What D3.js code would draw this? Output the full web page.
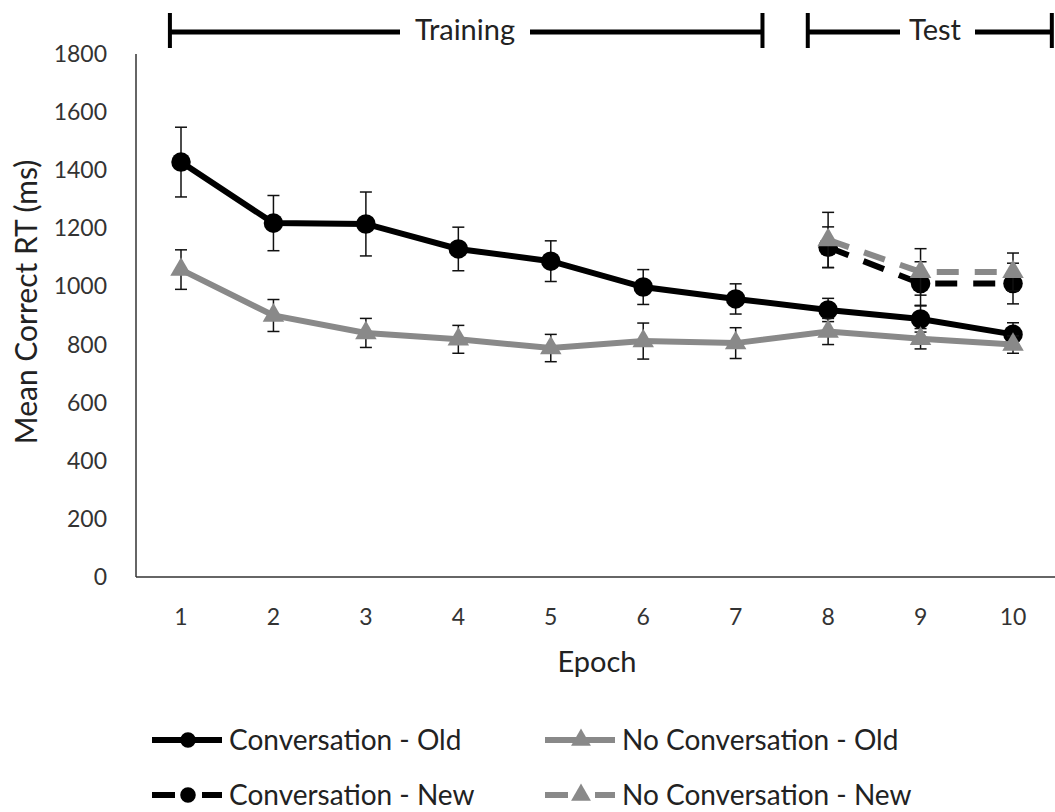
<!DOCTYPE html>
<html>
<head>
<meta charset="utf-8">
<script src="https://cdn.jsdelivr.net/npm/d3@7"></script>
<style>
  body { margin: 0; background: #fff; }
  text { font-family: Lato, "Open Sans", sans-serif; fill: #222; }
</style>
</head>
<body>
<div id="chart"></div>
<script>
var epochs = [1, 2, 3, 4, 5, 6, 7, 8, 9, 10];
var testEpochs = [8, 9, 10];
var yTicks = [0, 200, 400, 600, 800, 1000, 1200, 1400, 1600, 1800];

var convOld = [1428, 1218, 1215, 1129, 1087, 998, 957, 919, 888, 835];
var convOldErr = [120, 95, 110, 75, 70, 60, 52, 40, 45, 40];
var noConvOld = [1058, 900, 840, 818, 788, 812, 805, 845, 820, 800];
var noConvOldErr = [68, 55, 50, 48, 47, 62, 53, 45, 35, 30];
var convNew = [1135, 1010, 1010];
var convNewErr = [70, 75, 70];
var noConvNew = [1160, 1050, 1050];
var noConvNewErr = [95, 80, 65];

var W = 1055, H = 812;
var m = { left: 136, top: 54, bottom: 235 };
var black = '#000', grey = '#898989';

var svg = d3.select('#chart').append('svg')
  .attr('width', W).attr('height', H);

var x = d3.scalePoint().domain(epochs).range([181, 1013]);
var y = d3.scaleLinear().domain([0, 1800]).range([H - m.bottom, m.top]);

// axis lines, no tick marks
svg.append('line').attr('x1', m.left).attr('x2', m.left)
  .attr('y1', y(1800)).attr('y2', y(0)).attr('stroke', '#333').attr('stroke-width', 1.5);
svg.append('line').attr('x1', m.left).attr('x2', W)
  .attr('y1', y(0)).attr('y2', y(0)).attr('stroke', '#333').attr('stroke-width', 1.5);

svg.selectAll('.ytick').data(yTicks).enter().append('text')
  .attr('x', 107).attr('y', function(d) { return y(d); })
  .attr('dy', '.35em').attr('text-anchor', 'end')
  .style('font-size', '23px').style('fill', '#333').text(function(d) { return d; });

svg.selectAll('.xtick').data(epochs).enter().append('text')
  .attr('x', function(d) { return x(d); }).attr('y', 617)
  .attr('dy', '.35em').attr('text-anchor', 'middle')
  .style('font-size', '23px').style('fill', '#333').text(function(d) { return d; });

svg.append('text').attr('x', 597).attr('y', 662)
  .attr('dy', '.35em').attr('text-anchor', 'middle')
  .style('font-size', '29px').text('Epoch');

svg.append('text')
  .attr('transform', 'translate(26,302) rotate(-90)')
  .attr('dy', '.35em').attr('text-anchor', 'middle')
  .style('font-size', '30px').text('Mean Correct RT (ms)');

// period brackets
var step = x.step();
function bracket(from, to, label, labelX, gapL, gapR) {
  var g = svg.append('g');
  var x1 = x(from[0]) + from[1] * step, x2 = x(to[0]) + to[1] * step;
  g.append('line').attr('x1', x1).attr('x2', gapL)
    .attr('y1', 32).attr('y2', 32).attr('stroke', black).attr('stroke-width', 5);
  g.append('line').attr('x1', gapR).attr('x2', x2)
    .attr('y1', 32).attr('y2', 32).attr('stroke', black).attr('stroke-width', 5);
  [x1, x2].forEach(function(px) {
    g.append('line').attr('x1', px).attr('x2', px).attr('y1', 13).attr('y2', 48)
      .attr('stroke', black).attr('stroke-width', 4);
  });
  g.append('text').attr('x', labelX).attr('y', 30).attr('dy', '.35em')
    .attr('text-anchor', 'middle').style('font-size', '29px').text(label);
}
bracket([1, -0.12], [7, 0.29], 'Training', 465, 400, 530);
bracket([8, -0.22], [10, 0.42], 'Test', 935, 900, 975);

// series
function drawSeries(xs, vals, errs, color, dashed, marker) {
  var pts = xs.map(function(e, i) { return { e: e, v: vals[i], err: errs[i] }; });
  var g = svg.append('g');
  g.append('path').datum(pts)
    .attr('d', d3.line().x(function(d) { return x(d.e); }).y(function(d) { return y(d.v); }))
    .attr('fill', 'none').attr('stroke', color).attr('stroke-width', 6)
    .attr('stroke-dasharray', dashed ? '22,16' : null);
  var eb = g.selectAll('.eb').data(pts).enter().append('g');
  eb.append('line').attr('x1', function(d) { return x(d.e); }).attr('x2', function(d) { return x(d.e); })
    .attr('y1', function(d) { return y(d.v + d.err); }).attr('y2', function(d) { return y(d.v - d.err); })
    .attr('stroke', '#111').attr('stroke-width', 1.5);
  [1, -1].forEach(function(s) {
    eb.append('line').attr('x1', function(d) { return x(d.e) - 6; }).attr('x2', function(d) { return x(d.e) + 6; })
      .attr('y1', function(d) { return y(d.v + s * d.err); }).attr('y2', function(d) { return y(d.v + s * d.err); })
      .attr('stroke', '#111').attr('stroke-width', 1.5);
  });
  var sym = d3.symbol().type(marker).size(marker === d3.symbolCircle ? 300 : 200);
  g.selectAll('.mk').data(pts).enter().append('path')
    .attr('transform', function(d) { return 'translate(' + x(d.e) + ',' + y(d.v) + ')'; })
    .attr('d', sym).attr('fill', color);
}
drawSeries(epochs, convOld, convOldErr, black, false, d3.symbolCircle);
drawSeries(epochs, noConvOld, noConvOldErr, grey, false, d3.symbolTriangle);
drawSeries(testEpochs, convNew, convNewErr, black, true, d3.symbolCircle);
drawSeries(testEpochs, noConvNew, noConvNewErr, grey, true, d3.symbolTriangle);

// legend
var legend = [
  { name: 'Conversation - Old', color: black, dashed: false, marker: d3.symbolCircle, x: 152, y: 740 },
  { name: 'No Conversation - Old', color: grey, dashed: false, marker: d3.symbolTriangle, x: 545, y: 740 },
  { name: 'Conversation - New', color: black, dashed: true, marker: d3.symbolCircle, x: 152, y: 795 },
  { name: 'No Conversation - New', color: grey, dashed: true, marker: d3.symbolTriangle, x: 545, y: 795 }
];
var lg = svg.selectAll('.lg').data(legend).enter().append('g')
  .attr('transform', function(d) { return 'translate(' + d.x + ',' + d.y + ')'; });
lg.append('line').attr('x1', 0).attr('x2', 70).attr('y1', 0).attr('y2', 0)
  .attr('stroke', function(d) { return d.color; }).attr('stroke-width', 6)
  .attr('stroke-dasharray', function(d) { return d.dashed ? '23,27,20' : null; });
lg.append('path').attr('transform', 'translate(36,0)')
  .attr('d', function(d) { return d3.symbol().type(d.marker).size(d.marker === d3.symbolCircle ? 190 : 170)(); })
  .attr('fill', function(d) { return d.color; });
lg.append('text').attr('x', 77).attr('dy', '.35em')
  .style('font-size', '28px').text(function(d) { return d.name; });
</script>
</body>
</html>
